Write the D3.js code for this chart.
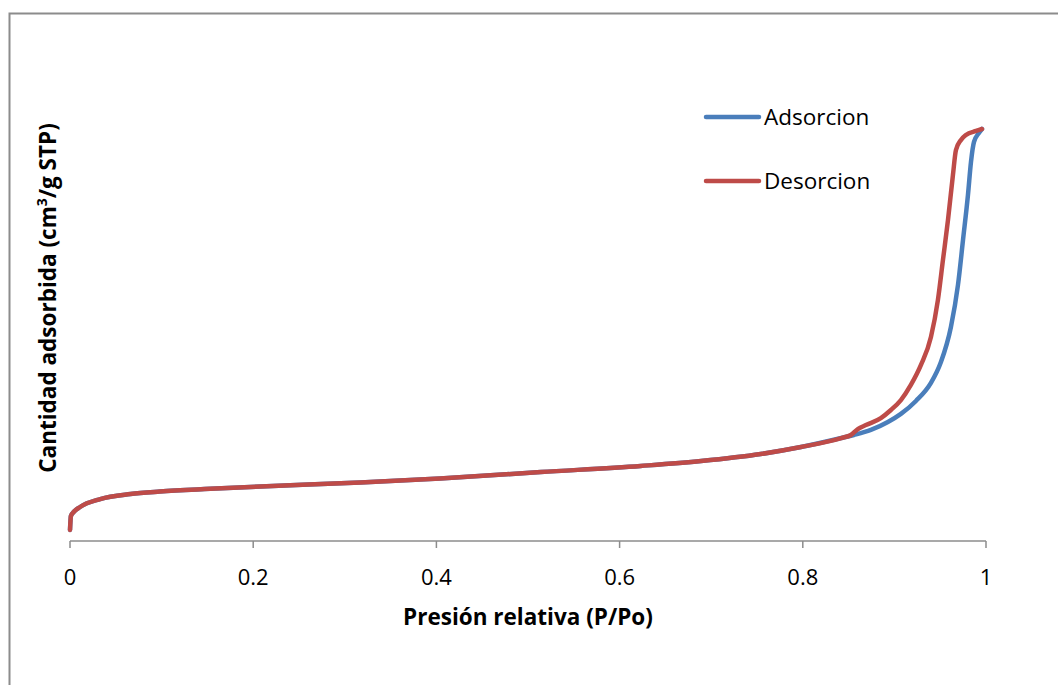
<!DOCTYPE html>
<html>
<head>
<meta charset="utf-8">
<script src="https://cdn.jsdelivr.net/npm/d3@7"></script>
<style>
  html, body { margin: 0; padding: 0; background: #fff; }
  svg { display: block; }
</style>
</head>
<body>
<svg id="chart" width="1058" height="685"></svg>
<script>
// Isotherm data: relative pressure (P/Po) and adsorbed quantity (cm3/g STP)
const commonPressure = [0, 0.001, 0.004, 0.011, 0.033, 0.066, 0.098, 0.153, 0.208, 0.317, 0.404, 0.514, 0.623, 0.689, 0.754, 0.798, 0.842];
const commonQuantity = [6.1, 13.9, 16.1, 18.9, 23.3, 26.1, 27.5, 29.0, 30.3, 32.5, 34.7, 38.3, 41.7, 44.4, 48.3, 52.2, 57.2];

const adsPressureHigh = [0.8558, 0.8743, 0.8929, 0.9071, 0.9235, 0.9399, 0.9508, 0.9617, 0.9694, 0.9749, 0.9803, 0.9836, 0.9869, 0.9923, 0.9956];
const adsQuantityHigh = [58.9, 61.7, 66.1, 70.6, 77.8, 87.8, 99.4, 118.9, 142.2, 167.2, 192.2, 210.6, 221.7, 226.7, 228.9];

const desPressureHigh = [0.8525, 0.8601, 0.8689, 0.8852, 0.8962, 0.9071, 0.9180, 0.9290, 0.9399, 0.9475, 0.9530, 0.9585, 0.9639, 0.9672, 0.9727, 0.9781, 0.9891, 0.9956];
const desQuantityHigh = [58.9, 62.2, 64.4, 68.3, 72.8, 78.3, 86.7, 97.8, 113.3, 133.9, 156.1, 178.3, 203.3, 217.2, 222.8, 225.6, 227.8, 228.9];

const seriesNames = ["Adsorcion", "Desorcion"];
const seriesColors = ["#4a7ebb", "#be4b48"];
const xTicks = [0, 0.2, 0.4, 0.6, 0.8, 1];
const xTickLabels = ["0", "0.2", "0.4", "0.6", "0.8", "1"];

const svg = d3.select("#chart");

// Chart frame
svg.append("rect")
  .attr("x", 9.5).attr("y", 13.5)
  .attr("width", 1200).attr("height", 800)
  .attr("fill", "none")
  .attr("stroke", "#8c8c8c")
  .attr("stroke-width", 2);

const x = d3.scaleLinear().domain([0, 1]).range([70, 986]);
const y = d3.scaleLinear().domain([0, 250]).range([541, 91]);

// X axis
const xAxis = svg.append("g").attr("transform", "translate(0,541)");
xAxis.append("line")
  .attr("x1", x(0)).attr("x2", x(1))
  .attr("stroke", "#8c8c8c").attr("stroke-width", 1.5);
xAxis.selectAll(".tick")
  .data(xTicks)
  .join("line")
  .attr("x1", d => x(d)).attr("x2", d => x(d))
  .attr("y1", 0).attr("y2", 7)
  .attr("stroke", "#8c8c8c").attr("stroke-width", 1.5);
xAxis.selectAll(".lbl")
  .data(xTicks)
  .join("text")
  .attr("x", d => x(d))
  .attr("y", 44)
  .attr("text-anchor", "middle")
  .attr("font-family", "'Open Sans', Lato, sans-serif")
  .attr("font-size", 22)
  .attr("fill", "#000")
  .text((d, i) => xTickLabels[i]);

// Axis titles
svg.append("text")
  .attr("x", 528).attr("y", 625)
  .attr("text-anchor", "middle")
  .attr("font-family", "'Open Sans', Lato, sans-serif")
  .attr("font-weight", "bold")
  .attr("font-size", 22.5)
  .text("Presión relativa (P/Po)");

const yTitle = svg.append("text")
  .attr("transform", "translate(56,298) rotate(-90)")
  .attr("text-anchor", "middle")
  .attr("font-family", "'Open Sans', Lato, sans-serif")
  .attr("font-weight", "bold")
  .attr("font-size", 22.5);
yTitle.append("tspan").text("Cantidad adsorbida (cm");
yTitle.append("tspan").attr("baseline-shift", "super").attr("font-size", 14).text("3");
yTitle.append("tspan").text("/g STP)");

// Build series from the shared low-pressure branch plus the hysteresis branch
function buildSeries(pHigh, qHigh) {
  const pts = commonPressure.map((p, i) => ({ p, q: commonQuantity[i] }));
  pHigh.forEach((p, i) => pts.push({ p, q: qHigh[i] }));
  return pts;
}
const adsorption = buildSeries(adsPressureHigh, adsQuantityHigh);
const desorption = buildSeries(desPressureHigh, desQuantityHigh);

const line = d3.line()
  .x(d => x(d.p))
  .y(d => y(d.q))
  .curve(d3.curveMonotoneX);

[adsorption, desorption].forEach((data, i) => {
  svg.append("path")
    .datum(data)
    .attr("fill", "none")
    .attr("stroke", seriesColors[i])
    .attr("stroke-width", 4.5)
    .attr("stroke-linejoin", "round")
    .attr("stroke-linecap", "round")
    .attr("d", line);
});

// Legend
const legend = svg.append("g");
seriesNames.forEach((name, i) => {
  const ly = 117 + i * 64;
  legend.append("line")
    .attr("x1", 706).attr("x2", 759)
    .attr("y1", ly).attr("y2", ly)
    .attr("stroke", seriesColors[i])
    .attr("stroke-width", 4.5)
    .attr("stroke-linecap", "round");
  legend.append("text")
    .attr("x", 764).attr("y", ly + 8)
    .attr("font-family", "'Open Sans', Lato, sans-serif")
    .attr("font-size", 22.5)
    .attr("fill", "#000")
    .text(name);
});
</script>
</body>
</html>
